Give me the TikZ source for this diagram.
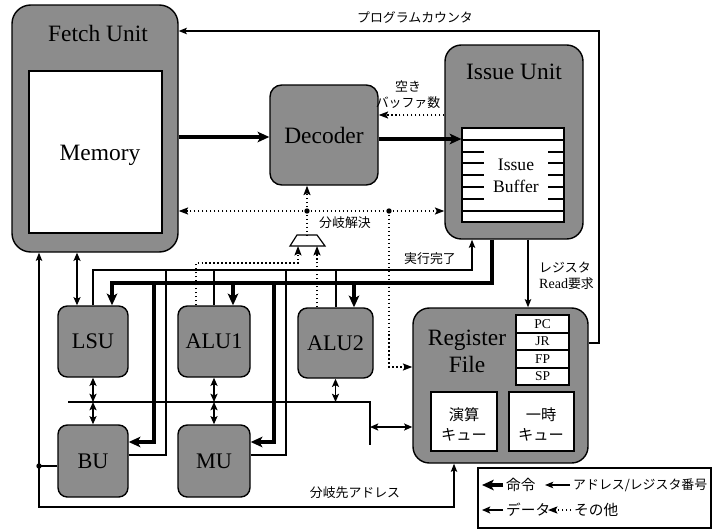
\documentclass[tikz,border=0pt]{standalone}
\usepackage{fontspec}
\setmainfont{Liberation Serif}
\newfontfamily\jp{Noto Sans CJK JP}
\usetikzlibrary{arrows.meta,fit}
\begin{document}
\begin{tikzpicture}[x=0.03cm,y=-0.03cm,
  unit/.style={draw, line width=1.2pt, fill=black!45, inner sep=0pt, rounded corners=8pt},
  bigunit/.style={unit, rounded corners=14pt},
  wbox/.style={draw, line width=1pt, fill=white, inner sep=0pt},
  ttl/.style={font=\fontsize{20}{23}\selectfont, align=center},
  utl/.style={font=\fontsize{19}{22}\selectfont},
  rtl/.style={font=\fontsize{11.5}{13}\selectfont, inner sep=0pt},
  qtl/.style={font=\jp\fontsize{13}{17}\selectfont, align=center, inner sep=0pt},
  jl/.style={font=\jp\fontsize{11}{13.5}\selectfont, align=center},
  ins/.style={line width=3.4pt},
  insA/.style={ins, -{Stealth[length=10pt,width=9pt,inset=2.5pt]}},
  dat/.style={line width=1.6pt},
  datA/.style={dat, -{Stealth[length=7pt,width=6pt,inset=1.5pt]}},
  datAA/.style={dat, {Stealth[length=7pt,width=6pt,inset=1.5pt]}-{Stealth[length=7pt,width=6pt,inset=1.5pt]}},
  adr/.style={line width=0.9pt},
  adrA/.style={adr, -{Stealth[length=7pt,width=5.5pt,inset=1.5pt]}},
  oth/.style={line width=1.2pt, dash pattern=on 1.2pt off 2.2pt},
  othA/.style={oth, -{Stealth[length=8pt,width=6pt,inset=1.5pt]}},
  dotc/.style={fill=black}
]
\useasboundingbox (0,0) rectangle (713,531);

% ---------- units ----------
\node[bigunit, rounded corners=16pt, fit={(12,5) (178,252)}] (fetch) {};
\node[wbox, fit={(29,71) (162,233)}] (mem) {};
\node[ttl] (fetchT) at (98,33) {Fetch Unit};
\node[ttl] (memT) at (100,155) {Memory};

\node[unit, rounded corners=10pt, fit={(270,85) (378,185)}] (dec) {};
\node[ttl] (decT) at (324,135) {Decoder};

\node[bigunit, fit={(445,45) (583,239)}] (issue) {};
\node[ttl] (issueT) at (514,72) {Issue Unit};
\node[wbox, fit={(462,128) (564,222)}] (buf) {};
\foreach \yy in {140,211} \draw[line width=1pt] (buf.west |- 0,\yy) -- (buf.east |- 0,\yy);
\foreach \yy in {152,163,175,187,199} {
  \draw[line width=1pt] (buf.west |- 0,\yy) -- ++(23,0);
  \draw[line width=1pt] (buf.east |- 0,\yy) -- ++(-17,0);
}
\node[font=\fontsize{15}{19}\selectfont, align=center] (bufT) at (516,176) {Issue\\Buffer};

\node[unit, fit={(58,306) (128,377)}] (lsu) {};
\node[utl] at (lsu) {LSU};
\node[unit, fit={(178,306) (250,377)}] (alu1) {};
\node[utl] at (alu1) {ALU1};
\node[unit, fit={(298,308) (373,378)}] (alu2) {};
\node[utl] at (alu2) {ALU2};
\node[unit, fit={(58,425) (128,497)}] (bu) {};
\node[utl] at (bu) {BU};
\node[unit, fit={(178,425) (250,497)}] (mu) {};
\node[utl] at (mu) {MU};

\node[bigunit, fit={(413,308) (588,463)}] (rf) {};
\node[ttl] (rfT) at (467,351) {Register\\File};
\node[wbox, fit={(516,315) (569,333)}] (pc) {};
\node[wbox, fit={(516,333) (569,350)}] (jr) {};
\node[wbox, fit={(516,350) (569,368)}] (fp) {};
\node[wbox, fit={(516,368) (569,385)}] (sp) {};
\node[rtl] at (pc.center) {PC};
\node[rtl] at (jr.center) {JR};
\node[rtl] at (fp.center) {FP};
\node[rtl] at (sp.center) {SP};
\node[wbox, fit={(431,392) (497,451)}] (calc) {};
\node[wbox, fit={(509,392) (574,451)}] (tmp) {};
\node[qtl] at (464,424) {演算\\キュー};
\node[qtl] at (541,424) {一時\\キュー};

% ---------- mux ----------
\draw[line width=1pt] (297,235) -- (317,235) -- (325,246) -- (290,246) -- cycle;
\coordinate (muxtop) at (307,235);
\coordinate (muxin1) at (298,246);
\coordinate (muxin2) at (317,246);

% ---------- instruction flow ----------
\draw[insA] (fetch.east |- 0,137) -- (dec.west |- 0,137);
\draw[insA] (dec.east |- 0,139) -- (buf.west |- 0,139);
\draw[insA] (issue.south -| 492,0) -- (492,283) -- (112,283) -- (lsu.north -| 112,0);
\draw[insA] (154,283) -- (154,442) -- (bu.east |- 0,442);
\draw[insA] (233,283) -- (alu1.north -| 233,0);
\draw[insA] (274,283) -- (274,442) -- (mu.east |- 0,442);
\draw[insA] (354,283) -- (alu2.north -| 354,0);

% ---------- other (dotted) ----------
\coordinate (d1) at (307,211);
\coordinate (d2) at (389,211);
\draw[othA] (issue.west |- 0,115) -- (dec.east |- 0,115);
\node[jl] (freeT) at (408,95) {空き\\バッファ数};
\draw[oth] (d1) -- (d2);
\draw[othA] (d1) -- (fetch.east |- d1);
\draw[othA] (d2) -- (issue.west |- d2);
\draw[othA] (d1) -- (dec.south -| d1);
\draw[oth] (d1) -- (muxtop);
\draw[othA] (d2) -- (389,367) -- (rf.west |- 0,367);
\draw[othA] (alu1.north -| 196,0) -- (196,263) -- (298,263) -- (muxin1);
\draw[othA] (alu2.north -| muxin2) -- (muxin2);
\fill[dotc] (d1) circle (2.3pt);
\fill[dotc] (d2) circle (2.3pt);
\node[jl] (brT) at (345,223) {分岐解決};

% ---------- address lines ----------
\draw[adrA] (rf.east |- 0,343) -- (599,343) -- (599,31) -- (fetch.east |- 0,31);
\node[jl] (pcT) at (415,18) {プログラムカウンタ};
\draw[adrA] (lsu.north -| 93,0) -- (93,270) -- (472,270) -- (issue.south -| 472,0);
\draw[adr] (bu.east |- 0,455) -- (166,455) -- (166,270);
\draw[adr] (alu1.north -| 214,0) -- (214,270);
\draw[adr] (mu.east |- 0,455) -- (286,455) -- (286,270);
\draw[adr] (alu2.north -| 336,0) -- (336,270);
\node[jl] (doneT) at (430,259) {実行完了};

\coordinate (bdot) at (39,466);
\draw[adr] (bu.west |- bdot) -- (bdot);
\draw[adrA] (bdot) -- (fetch.south -| bdot);
\draw[adrA] (bdot) -- (39,507) -- (454,507) -- (rf.south -| 454,0);
\fill[dotc] (bdot) circle (2.3pt);
\node[jl] (tgtT) at (355,493) {分岐先アドレス};

\draw[adrA, line width=1.1pt] (issue.south -| 528,0) -- (rf.north -| 528,0);
\node[jl, align=left, anchor=west] (rdT) at (535,276) {レジスタ\\{\rmfamily\fontsize{12}{13.5}\selectfont Read}要求};

% ---------- data ----------
\draw[datAA] (fetch.south -| 77,0) -- (lsu.north -| 77,0);
\draw[dat] (68,402) -- (370,402) -- (370,445);
\draw[datAA] (lsu.south) -- (lsu.south |- 0,402);
\draw[datAA] (lsu.south |- 0,402) -- (bu.north);
\draw[datAA] (alu1.south) -- (alu1.south |- 0,402);
\draw[datAA] (alu1.south |- 0,402) -- (mu.north);
\draw[datAA] (alu2.south) -- (alu2.south |- 0,402);
\draw[datAA] (370,427) -- (rf.west |- 0,427);

% ---------- legend ----------
\node[draw, line width=1.1pt, inner sep=0pt, fit={(478,468) (711,528)}] (leg) {};
\draw[insA] (503,485) -- (482,485);
\node[font=\jp\fontsize{12.5}{14}\selectfont, anchor=west, inner sep=0pt] (l1) at (506,485) {命令};
\draw[adrA] (570,485) -- (545,485);
\node[font=\jp\fontsize{11}{13}\selectfont, anchor=west, inner sep=0pt] (l2) at (573,485) {アドレス/レジスタ番号};
\draw[datA] (503,510) -- (482,510);
\node[font=\jp\fontsize{12.5}{14}\selectfont, anchor=west, inner sep=0pt] (l3) at (506,510) {データ};
\draw[othA] (571,510) -- (548,510);
\node[font=\jp\fontsize{12.5}{14}\selectfont, anchor=west, inner sep=0pt] (l4) at (574,510) {その他};
\end{tikzpicture}
\end{document}
